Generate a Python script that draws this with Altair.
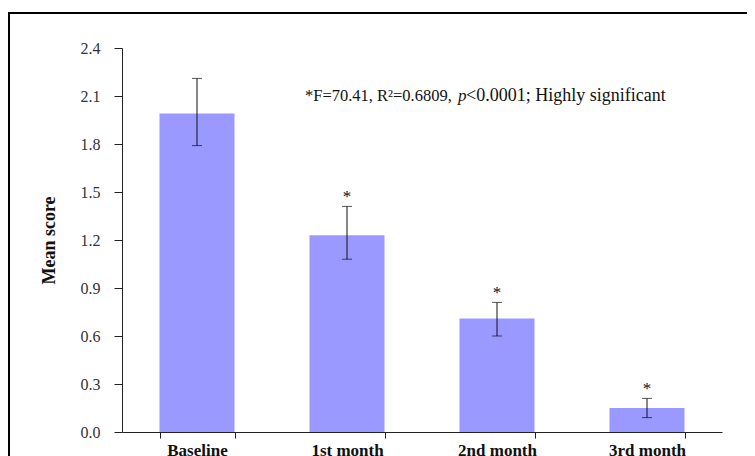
import altair as alt
import pandas as pd

periods = ["Baseline", "1st month", "2nd month", "3rd month"]
means = [1.99, 1.23, 0.71, 0.15]
lower = [1.79, 1.08, 0.60, 0.09]
upper = [2.21, 1.41, 0.81, 0.21]
stars = ["", "*", "*", "*"]
y_ticks = [0.0, 0.3, 0.6, 0.9, 1.2, 1.5, 1.8, 2.1, 2.4]

df = pd.DataFrame({"period": periods, "mean": means, "lo": lower, "hi": upper, "star": stars})

SERIF = "Liberation Serif"
W, H = 600, 384

x = alt.X("period:N", sort=periods, title=None,
          scale=alt.Scale(paddingInner=0.5, paddingOuter=0.25),
          axis=alt.Axis(labelAngle=0, labelFont=SERIF, labelFontSize=17, labelFontWeight="bold",
                        labelColor="#111", tickBand="extent", tickSize=6, tickColor="#222",
                        domainColor="#222", labelPadding=4))
y_scale = alt.Scale(domain=[0, 2.4], nice=False)

bars = alt.Chart(df).mark_bar(color="#9999FF").encode(
    x=x,
    y=alt.Y("mean:Q", scale=y_scale, title="Mean score",
            axis=alt.Axis(values=y_ticks, format=".1f", grid=False, labelFont=SERIF,
                          labelFontSize=16, labelColor="#333", tickSize=8, tickColor="#222",
                          domainColor="#222", labelPadding=14, titleFont=SERIF,
                          titleFontSize=18, titleFontWeight="bold", titleColor="#111",
                          titlePadding=22)),
)

err = alt.Chart(df).mark_rule(color="#111", strokeWidth=1).encode(
    x=alt.X("period:N", sort=periods), y=alt.Y("lo:Q", scale=y_scale), y2="hi:Q")
cap_hi = alt.Chart(df).mark_tick(color="#111", thickness=1, size=10, orient="horizontal").encode(
    x=alt.X("period:N", sort=periods), y=alt.Y("hi:Q", scale=y_scale))
cap_lo = alt.Chart(df).mark_tick(color="#111", thickness=1, size=10, orient="horizontal").encode(
    x=alt.X("period:N", sort=periods), y=alt.Y("lo:Q", scale=y_scale))
star = alt.Chart(df).mark_text(font=SERIF, fontSize=17, color="#111", dy=0, baseline="bottom").encode(
    x=alt.X("period:N", sort=periods), y=alt.Y("hi:Q", scale=y_scale), text="star:N")

ann_df = pd.DataFrame({"yv": [2.1]})
ann_base = alt.Chart(ann_df)
ann1 = ann_base.mark_text(font=SERIF, fontSize=16.5, align="left", baseline="middle", color="#111").encode(
    x=alt.value(183), y=alt.Y("yv:Q", scale=y_scale), text=alt.value("*F=70.41, R²=0.6809,"))
ann2 = ann_base.mark_text(font=SERIF, fontSize=17, fontStyle="italic", align="left", baseline="middle", color="#111").encode(
    x=alt.value(336), y=alt.Y("yv:Q", scale=y_scale), text=alt.value("p"))
ann3 = ann_base.mark_text(font=SERIF, fontSize=18, align="left", baseline="middle", color="#111").encode(
    x=alt.value(344), y=alt.Y("yv:Q", scale=y_scale), text=alt.value("<0.0001; Highly significant"))

frame_top = alt.Chart(ann_df).mark_rule(color="#000", strokeWidth=2).encode(
    x=alt.value(-114), x2=alt.value(700), y=alt.value(-35))
frame_left = alt.Chart(ann_df).mark_rule(color="#000", strokeWidth=2).encode(
    x=alt.value(-113), y=alt.value(-36), y2=alt.value(500))

chart = alt.layer(bars, err, cap_hi, cap_lo, star, ann1, ann2, ann3, frame_top, frame_left).properties(
    width=W, height=H,
    background="white",
    view=alt.ViewBackground(stroke="transparent", strokeWidth=0),
    autosize=alt.AutoSizeParams(type="none"),
    padding={"left": 114, "top": 40, "right": 25, "bottom": 24},
).configure_view(strokeWidth=0, stroke="transparent")

chart.save("out.html", embed_options={"renderer": "svg", "actions": False})
